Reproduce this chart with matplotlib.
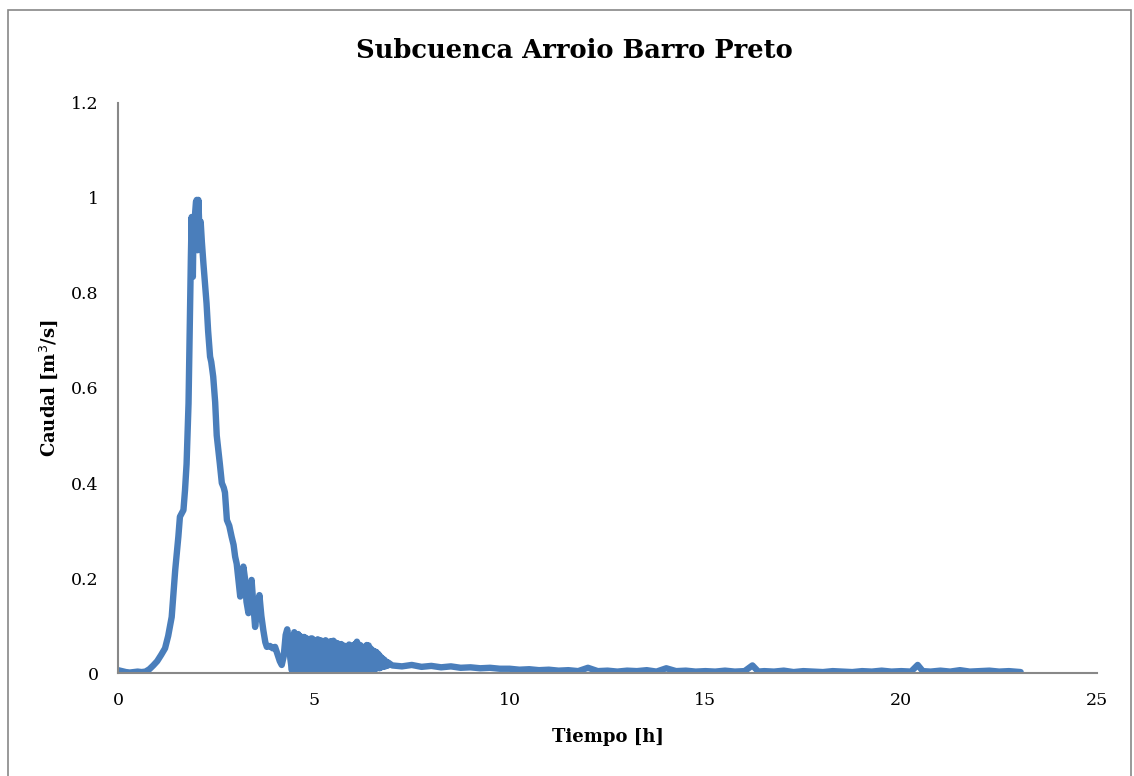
import numpy as np
import matplotlib
matplotlib.use("Agg")
import matplotlib.pyplot as plt
from matplotlib.patches import Rectangle

# Rising limb and peak (time in h, flow in m3/s)
rise_t = [0.0, 0.1, 0.2, 0.3, 0.4, 0.5, 0.6, 0.7, 0.8, 0.9, 1.0, 1.1, 1.2,
          1.28, 1.37, 1.46, 1.54, 1.58, 1.67, 1.71, 1.75, 1.80, 1.84, 1.86,
          1.88, 1.90, 1.91, 1.93, 1.95, 1.97, 1.99, 2.01, 2.03, 2.05, 2.08,
          2.11, 2.14, 2.18]
rise_q = [0.006, 0.004, 0.002, 0.001, 0.002, 0.003, 0.002, 0.003, 0.008,
          0.016, 0.025, 0.038, 0.052, 0.078, 0.118, 0.217, 0.287, 0.329,
          0.343, 0.385, 0.44, 0.568, 0.779, 0.876, 0.96, 0.88, 0.834, 0.95,
          0.90, 0.97, 0.992, 0.996, 0.89, 0.996, 0.93, 0.95, 0.908, 0.862]

# Recession
rec_t = [2.22, 2.26, 2.30, 2.35, 2.38, 2.43, 2.48, 2.52, 2.56, 2.60, 2.65,
         2.70, 2.73, 2.78, 2.84, 2.90, 2.95, 2.99, 3.03, 3.07, 3.12, 3.17,
         3.20, 3.24, 3.28, 3.33, 3.37, 3.41, 3.45, 3.50, 3.55, 3.61, 3.66,
         3.71, 3.76, 3.80, 3.88, 3.95, 4.01, 4.07, 4.13, 4.18, 4.23, 4.28,
         4.32, 4.36, 4.40, 4.44]
rec_q = [0.82, 0.778, 0.72, 0.666, 0.655, 0.624, 0.57, 0.50, 0.47, 0.44,
         0.40, 0.39, 0.38, 0.322, 0.31, 0.287, 0.27, 0.245, 0.23, 0.20,
         0.161, 0.21, 0.224, 0.20, 0.15, 0.126, 0.17, 0.196, 0.15, 0.097,
         0.13, 0.164, 0.12, 0.09, 0.065, 0.055, 0.057, 0.052, 0.055, 0.04,
         0.025, 0.017, 0.035, 0.08, 0.092, 0.07, 0.03, 0.005]

# Oscillating stretch
osc_t = [4.500, 4.525, 4.550, 4.575, 4.600, 4.625, 4.650, 4.675, 4.700,
         4.725, 4.750, 4.775, 4.800, 4.825, 4.850, 4.875, 4.900, 4.925,
         4.950, 4.975, 5.000, 5.025, 5.050, 5.075, 5.100, 5.125, 5.150,
         5.175, 5.200, 5.225, 5.250, 5.275, 5.300, 5.325, 5.350, 5.375,
         5.400, 5.425, 5.450, 5.475, 5.500, 5.525, 5.550, 5.575, 5.600,
         5.625, 5.650, 5.675, 5.700, 5.725, 5.750, 5.775, 5.800, 5.825,
         5.850, 5.875, 5.900, 5.925, 5.950, 5.975, 6.000, 6.025, 6.050,
         6.075, 6.100, 6.125, 6.150, 6.175, 6.200, 6.225, 6.250, 6.275,
         6.300, 6.325, 6.350, 6.375, 6.400, 6.425, 6.450, 6.475, 6.500,
         6.525, 6.550, 6.575, 6.600, 6.625, 6.650, 6.675, 6.700, 6.725,
         6.750, 6.775, 6.800, 6.825, 6.850, 6.875, 6.900]
osc_q = [0.086, 0.004, 0.080, 0.006, 0.082, 0.003, 0.078, 0.007, 0.075,
         0.002, 0.076, 0.005, 0.074, 0.004, 0.071, 0.008, 0.072, 0.003,
         0.073, 0.006, 0.070, 0.004, 0.068, 0.007, 0.071, 0.003, 0.069,
         0.005, 0.068, 0.006, 0.066, 0.003, 0.069, 0.007, 0.064, 0.004,
         0.066, 0.005, 0.067, 0.003, 0.068, 0.006, 0.064, 0.004, 0.063,
         0.007, 0.060, 0.003, 0.061, 0.005, 0.058, 0.008, 0.057, 0.004,
         0.055, 0.006, 0.060, 0.003, 0.057, 0.007, 0.058, 0.005, 0.061,
         0.004, 0.066, 0.006, 0.060, 0.008, 0.058, 0.005, 0.054, 0.007,
         0.055, 0.004, 0.059, 0.006, 0.058, 0.009, 0.052, 0.007, 0.048,
         0.010, 0.046, 0.008, 0.044, 0.011, 0.040, 0.010, 0.035, 0.012,
         0.031, 0.013, 0.028, 0.014, 0.024, 0.015, 0.022]

# Tail
tail_t = [7.00, 7.25, 7.50, 7.75, 8.00, 8.25, 8.50, 8.75, 9.00, 9.25, 9.50,
          9.75, 10.00, 10.25, 10.50, 10.75, 11.00, 11.25, 11.50, 11.75,
          12.00, 12.25, 12.50, 12.75, 13.00, 13.25, 13.50, 13.75, 14.00,
          14.25, 14.50, 14.75, 15.00, 15.25, 15.50, 15.75, 16.00, 16.20,
          16.35, 16.50, 16.75, 17.00, 17.25, 17.50, 17.75, 18.00, 18.25,
          18.50, 18.75, 19.00, 19.25, 19.50, 19.75, 20.00, 20.25, 20.42,
          20.55, 20.75, 21.00, 21.25, 21.50, 21.75, 22.00, 22.25, 22.50,
          22.75, 23.05]
tail_q = [0.016, 0.014, 0.017, 0.013, 0.015, 0.012, 0.014, 0.011, 0.012,
          0.010, 0.011, 0.009, 0.009, 0.007, 0.008, 0.006, 0.007, 0.005,
          0.006, 0.004, 0.011, 0.004, 0.005, 0.003, 0.005, 0.004, 0.006,
          0.003, 0.010, 0.004, 0.005, 0.003, 0.004, 0.003, 0.005, 0.003,
          0.004, 0.016, 0.003, 0.004, 0.003, 0.005, 0.002, 0.004, 0.003,
          0.002, 0.004, 0.003, 0.002, 0.004, 0.003, 0.005, 0.003, 0.004,
          0.003, 0.017, 0.004, 0.003, 0.005, 0.003, 0.006, 0.003, 0.004,
          0.005, 0.003, 0.004, 0.002]

tiempo = rise_t + rec_t + osc_t + tail_t
caudal = rise_q + rec_q + osc_q + tail_q

plt.rcParams['font.family'] = ['DejaVu Serif']

fig = plt.figure(figsize=(11.34, 7.76), dpi=100)
ax = fig.add_axes([0.1041, 0.1327, 0.8633, 0.7346])

ax.plot(tiempo, caudal, color='#4A7EBB', linewidth=4.6,
        solid_joinstyle='round', solid_capstyle='round')

ax.set_xlim(0, 25)
ax.set_ylim(0, 1.2)
ax.set_xticks([0, 5, 10, 15, 20, 25])
ax.set_yticks([0, 0.2, 0.4, 0.6, 0.8, 1.0, 1.2])
ax.set_yticklabels(['0', '0.2', '0.4', '0.6', '0.8', '1', '1.2'])
ax.tick_params(length=0, labelsize=12.5, pad=14)

for side in ['top', 'right']:
    ax.spines[side].set_visible(False)
for side in ['left', 'bottom']:
    ax.spines[side].set_color('#888888')
    ax.spines[side].set_linewidth(1.5)

ax.set_xlabel('Tiempo [h]', fontsize=13, fontweight='bold', labelpad=13)
ax.set_ylabel('Caudal [m$^3$/s]', fontsize=13, fontweight='bold', labelpad=8)
fig.text(0.5066, 0.935, 'Subcuenca Arroio Barro Preto', ha='center', va='center',
         fontsize=18.5, fontweight='bold')

# chart-area border
fig.patches.append(Rectangle((8 / 1134, -0.01), 1123 / 1134, 1 - 9.5 / 776 + 0.01,
                             transform=fig.transFigure, fill=False,
                             edgecolor='#888888', linewidth=1.2))

fig.savefig('out.png', dpi=100)
